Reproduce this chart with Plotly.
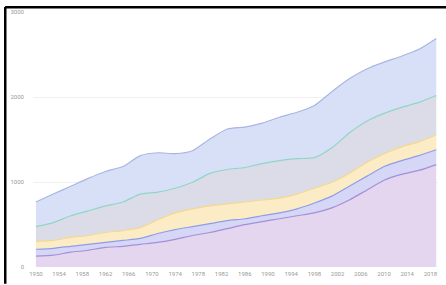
import plotly.graph_objects as go

years = [1950, 1953, 1956, 1959, 1962, 1965, 1968, 1971, 1974, 1977, 1980, 1983,
         1986, 1989, 1992, 1995, 1998, 2001, 2004, 2007, 2010, 2013, 2016, 2019]

series_a = [127, 139, 174, 197, 232, 243, 267, 290, 325, 371, 406, 452,
            498, 533, 568, 603, 637, 695, 788, 904, 1020, 1089, 1136, 1205]
series_b = [82, 81, 69, 70, 58, 70, 69, 104, 115, 104, 104, 93,
            70, 70, 69, 81, 116, 139, 162, 162, 162, 163, 174, 174]
series_c = [92, 93, 105, 104, 116, 116, 128, 162, 197, 209, 209, 197,
            197, 185, 174, 174, 174, 163, 151, 163, 151, 162, 162, 174]
series_d = [174, 209, 255, 290, 313, 336, 394, 325, 290, 313, 382, 405,
            406, 429, 441, 417, 359, 405, 475, 486, 475, 464, 464, 464]
series_e = [290, 336, 347, 382, 405, 417, 452, 463, 406, 371, 406, 476,
            475, 475, 510, 545, 615, 661, 638, 615, 603, 602, 625, 672]

names = ["A", "B", "C", "D", "E"]
x_ticks = list(range(1950, 2019, 4))
y_ticks = [0, 1000, 2000, 3000]

fills = ["rgba(228,214,238,1)", "rgba(214,214,246,1)", "rgba(252,236,198,1)",
         "rgba(220,220,232,1)", "rgba(216,224,248,1)"]
lines = ["#a58fd6", "#8f9de6", "#f3d890", "#8fd6c6", "#aab6e2"]

fig = go.Figure()
for name, vals, fc, lc in zip(names, [series_a, series_b, series_c, series_d, series_e], fills, lines):
    fig.add_trace(go.Scatter(
        x=years, y=vals, name=name, stackgroup="one", mode="lines",
        line=dict(color=lc, width=1.2, shape="spline", smoothing=0.6),
        fillcolor=fc,
    ))

fig.update_layout(
    width=446, height=285,
    margin=dict(l=33, r=8, t=9, b=17),
    paper_bgcolor="white", plot_bgcolor="white",
    showlegend=False,
    font=dict(family="Roboto", size=6, color="#999999"),
    xaxis=dict(range=[1949.5, 2019.3], tickvals=x_ticks, showgrid=False,
               zeroline=False, showline=False, ticks="", ticklabelstandoff=2,
               tickfont=dict(size=6, color="#999999")),
    yaxis=dict(range=[0, 3000], tickvals=y_ticks, ticktext=["0", "1000", "2000", "3000"],
               showgrid=True, gridcolor="#f0f0f0", gridwidth=1, zeroline=False,
               ticks="", ticklabelstandoff=8, tickfont=dict(size=6, color="#999999")),
    shapes=[
        dict(type="line", xref="paper", yref="paper", x0=-0.069, x1=1.03, y0=1.019, y1=1.019,
             line=dict(color="black", width=2.5), layer="above"),
        dict(type="line", xref="paper", yref="paper", x0=-0.0685, x1=-0.0685, y0=1.02, y1=-0.066,
             line=dict(color="black", width=2.5), layer="above"),
    ],
)

fig.write_html("out.html", config={"displayModeBar": False},
               post_script="document.body.style.margin='0';")
